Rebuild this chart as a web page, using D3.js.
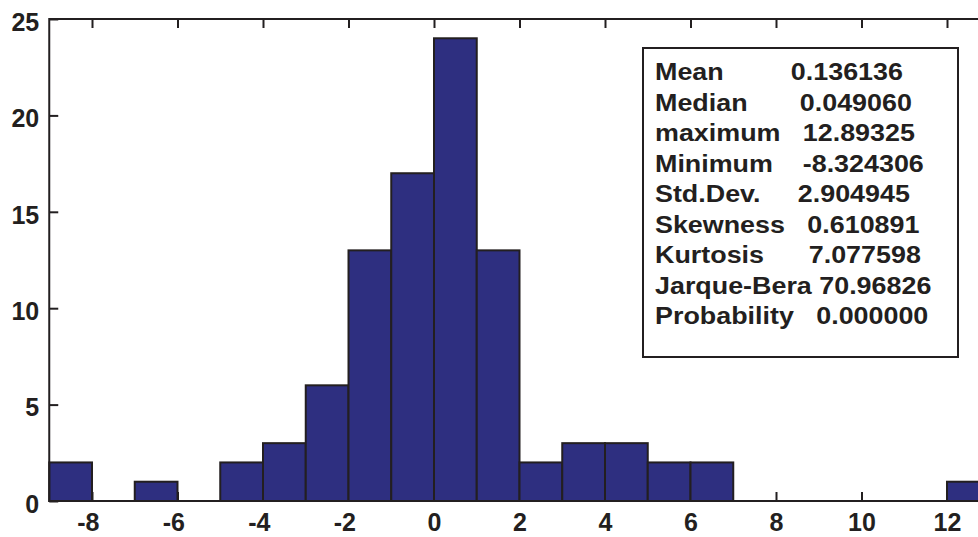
<!DOCTYPE html>
<html>
<head>
<meta charset="utf-8">
<script src="https://cdn.jsdelivr.net/npm/d3@7"></script>
<style>
  body { margin: 0; background: #fff; }
  text { font-family: "Liberation Sans", Arial, sans-serif; font-weight: bold; fill: #231f20; }
</style>
</head>
<body>
<script>
// datos del histograma (borde inferior de cada clase, ancho 1)
var binStarts = [-9, -8, -7, -6, -5, -4, -3, -2, -1, 0, 1, 2, 3, 4, 5, 6, 7, 8, 9, 10, 11, 12];
var counts    = [ 2,  0,  1,  0,  2,  3,  6, 13, 17, 24, 13, 2, 3, 3, 2, 2, 0, 0, 0, 0, 0, 1];
var xTicks = [-8, -6, -4, -2, 0, 2, 4, 6, 8, 10, 12];
var yTicks = [0, 5, 10, 15, 20, 25];

// cuadro de estadisticos (texto tal cual, con relleno de espacios)
var statLines = [
  "Mean         0.136136",
  "Median       0.049060",
  "maximum   12.89325",
  "Minimum    -8.324306",
  "Std.Dev.     2.904945",
  "Skewness   0.610891",
  "Kurtosis      7.077598",
  "Jarque-Bera 70.96826",
  "Probability   0.000000"
];

var width = 978, height = 537;
var ink = "#231f20";

var svg = d3.select("body").append("svg")
    .attr("width", width)
    .attr("height", height);

var x = d3.scaleLinear().domain([-9, 13]).range([49.25, 989.75]);
var y = d3.scaleLinear().domain([0, 25]).range([501, 19]);

// el signo menos queda colgando a la izquierda del numero
function minusShift(d) { return d < 0 ? "-0.17em" : "0"; }

// ejes (solo marcas, el marco se dibuja aparte)
var gb = svg.append("g")
    .attr("transform", "translate(0," + y(0) + ")")
    .call(d3.axisBottom(x).tickValues(xTicks).tickSize(-9).tickPadding(0).tickFormat(d => String(d)));
gb.selectAll("text").attr("y", 30).attr("dy", 0).attr("dx", minusShift).style("font-size", "25px");

svg.append("g")
    .attr("transform", "translate(0," + y(25) + ")")
    .call(d3.axisTop(x).tickValues(xTicks).tickSize(-9).tickFormat(""));

var gl = svg.append("g")
    .attr("transform", "translate(" + x(-9) + ",0)")
    .call(d3.axisLeft(y).tickValues(yTicks).tickSize(-9).tickPadding(10).tickFormat(d => String(d)));
gl.selectAll("text").attr("dy", "0.45em").style("font-size", "25px");

svg.selectAll(".domain").remove();
svg.selectAll(".tick line").attr("stroke", ink).attr("stroke-width", 2);

// barras
var bars = binStarts.map(function(b, i) { return {x0: b, x1: b + 1, n: counts[i]}; })
    .filter(function(d) { return d.n > 0; });

svg.selectAll(".bar")
  .data(bars)
  .enter().append("rect")
    .attr("class", "bar")
    .attr("x", d => x(d.x0))
    .attr("y", d => y(d.n))
    .attr("width", d => x(d.x1) - x(d.x0))
    .attr("height", d => y(0) - y(d.n))
    .attr("fill", "#2e2f80")
    .attr("stroke", ink)
    .attr("stroke-width", 2);

// marco
svg.append("rect")
    .attr("x", x(-9))
    .attr("y", y(25))
    .attr("width", x(13) - x(-9))
    .attr("height", y(0) - y(25))
    .attr("fill", "none")
    .attr("stroke", ink)
    .attr("stroke-width", 2);

// cuadro de estadisticos
svg.append("rect")
    .attr("x", 643).attr("y", 48)
    .attr("width", 315).attr("height", 309)
    .attr("fill", "#fff")
    .attr("stroke", ink)
    .attr("stroke-width", 2);

svg.selectAll(".stat")
  .data(statLines)
  .enter().append("text")
    .attr("class", "stat")
    .attr("xml:space", "preserve")
    .style("white-space", "pre")
    .style("font-size", "24px")
    .attr("transform", (d, i) => "translate(655," + (80 + i * 30.5) + ") scale(1.12,1)")
    .text(d => d);
</script>
</body>
</html>
